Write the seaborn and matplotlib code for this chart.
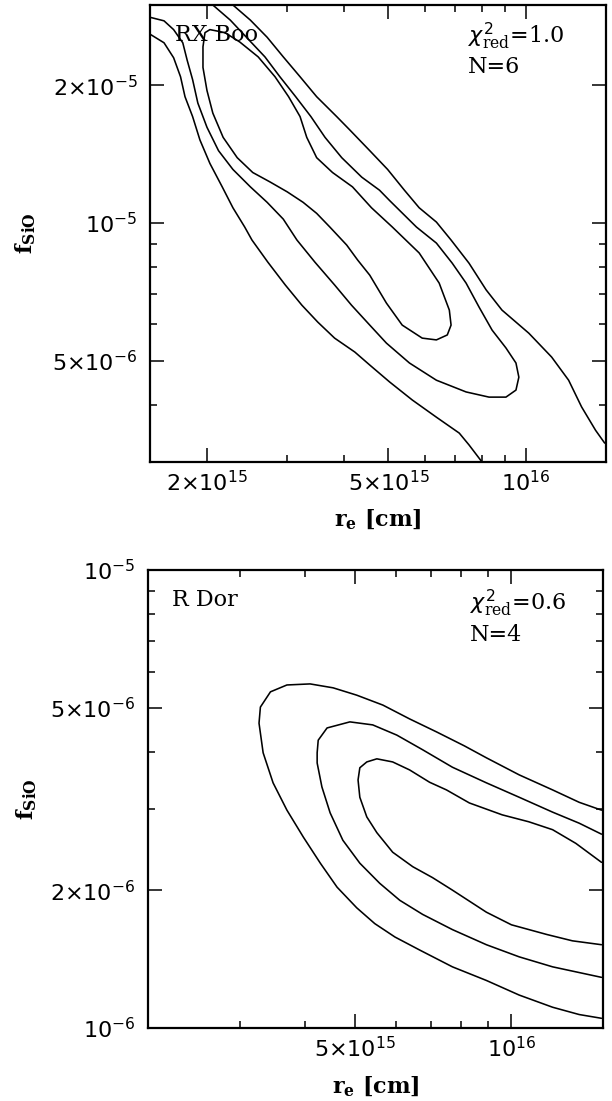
import numpy as np
import matplotlib
matplotlib.use("Agg")
import matplotlib.pyplot as plt
from matplotlib.ticker import FixedLocator, NullFormatter
import seaborn as sns

# values: r_e in units of 1e15 cm, f_SiO in units of 1e-6

# RX Boo (top panel)
rx_outer_left_r = [1.50, 1.61, 1.69, 1.75, 1.79, 1.86, 1.93, 2.03, 2.16, 2.28, 2.42, 2.51, 2.72,
                   2.97, 3.23, 3.50, 3.81, 4.22, 4.55, 5.03, 5.64, 6.37, 7.15, 7.51, 8.02]
rx_outer_left_f = [25.9, 24.8, 23.0, 20.9, 18.9, 17.1, 15.2, 13.5, 12.0, 10.8, 9.80, 9.18, 8.21,
                   7.32, 6.61, 6.07, 5.60, 5.22, 4.89, 4.49, 4.10, 3.76, 3.47, 3.27, 3.00]
rx_outer_right_r = [2.28, 2.49, 2.71, 2.94, 3.20, 3.48, 3.85, 4.11, 4.55, 4.98, 5.42, 5.84, 6.37,
                    6.86, 7.51, 8.19, 8.87, 10.16, 11.40, 12.42, 13.26, 14.23, 14.9]
rx_outer_right_f = [30.0, 27.8, 25.5, 23.1, 20.9, 18.9, 17.1, 16.0, 14.4, 13.1, 11.8, 10.8, 10.05,
                    9.18, 8.17, 7.14, 6.45, 5.74, 5.09, 4.53, 3.96, 3.52, 3.30]
rx_mid_r = [1.50, 1.61, 1.69, 1.77, 1.81, 1.86, 1.91, 2.00, 2.12, 2.28, 2.49, 2.71, 2.94, 3.15,
            3.45, 3.81, 4.15, 4.55, 4.95, 5.56, 6.37, 7.40, 8.31, 9.05, 9.52, 9.66, 9.52, 9.05,
            8.44, 7.90, 7.40, 6.90, 6.37, 5.76, 5.03, 4.78, 4.37, 3.95, 3.63, 3.38, 3.13, 2.89,
            2.68, 2.45, 2.25, 2.06]
rx_mid_f = [28.2, 27.7, 26.5, 24.8, 22.7, 20.6, 18.3, 16.2, 14.4, 13.1, 12.0, 11.1, 10.2, 9.18,
            8.21, 7.32, 6.61, 5.98, 5.46, 4.94, 4.53, 4.27, 4.16, 4.16, 4.31, 4.60, 4.94, 5.33,
            5.83, 6.55, 7.39, 8.17, 9.04, 9.80, 11.2, 11.8, 12.6, 13.9, 15.4, 17.1, 18.9, 20.9,
            23.1, 25.4, 27.8, 30.0]
rx_inner_r = [2.19, 2.11, 2.03, 1.98, 1.96, 1.96, 2.00, 2.06, 2.17, 2.33, 2.52, 2.75, 3.00, 3.25,
              3.48, 3.72, 4.05, 4.28, 4.55, 4.95, 5.36, 5.93, 6.37, 6.73, 6.86, 6.80, 6.46, 5.84,
              5.10, 4.59, 4.17, 3.77, 3.48, 3.31, 3.20, 3.02, 2.82, 2.59, 2.36, 2.19]
rx_inner_f = [26.1, 26.3, 26.5, 26.1, 24.3, 21.9, 19.5, 17.4, 15.4, 13.9, 12.9, 12.3, 11.7, 11.1,
              10.5, 9.80, 8.95, 8.30, 7.69, 6.68, 5.98, 5.60, 5.55, 5.69, 5.98, 6.45, 7.39, 8.60,
              9.80, 10.8, 12.0, 12.9, 13.9, 15.4, 17.1, 18.9, 20.9, 23.1, 24.9, 26.1]

# R Dor (bottom panel)
rd_outer_r = [14.9, 13.5, 12.0, 10.35, 8.95, 8.12, 7.18, 6.37, 5.66, 5.04, 4.54, 4.10, 3.70, 3.44,
              3.29, 3.27, 3.33, 3.48, 3.70, 3.98, 4.29, 4.62, 5.04, 5.46, 5.97, 6.66, 7.70, 8.95,
              10.35, 12.0, 13.5, 14.9]
rd_outer_f = [2.99, 3.11, 3.31, 3.57, 3.89, 4.13, 4.43, 4.73, 5.07, 5.33, 5.53, 5.64, 5.61, 5.42,
              5.02, 4.63, 3.99, 3.43, 2.99, 2.61, 2.29, 2.03, 1.83, 1.69, 1.58, 1.48, 1.36, 1.27,
              1.18, 1.11, 1.07, 1.05]
rd_mid_r = [14.9, 13.5, 12.0, 10.35, 8.95, 7.70, 6.75, 6.02, 5.41, 4.89, 4.42, 4.25, 4.23, 4.23,
            4.32, 4.48, 4.74, 5.11, 5.58, 6.10, 6.75, 7.70, 8.95, 10.35, 12.0, 14.9]
rd_mid_f = [2.65, 2.80, 2.96, 3.19, 3.43, 3.71, 4.05, 4.36, 4.59, 4.66, 4.52, 4.25, 3.99, 3.79,
            3.36, 2.95, 2.57, 2.29, 2.07, 1.90, 1.77, 1.64, 1.52, 1.43, 1.36, 1.29]
rd_inner_r = [14.9, 13.3, 12.0, 10.8, 9.60, 8.30, 7.50, 6.96, 6.37, 5.91, 5.51, 5.27, 5.11, 5.07,
              5.11, 5.27, 5.51, 5.91, 6.46, 7.05, 7.70, 8.95, 10.0, 11.7, 13.1, 14.9]
rd_inner_f = [2.30, 2.53, 2.71, 2.82, 2.92, 3.10, 3.31, 3.44, 3.66, 3.81, 3.87, 3.81, 3.70, 3.48,
              3.19, 2.89, 2.67, 2.42, 2.25, 2.13, 2.00, 1.79, 1.68, 1.60, 1.55, 1.52]

# ticks
rx_xmajor = [2e15, 5e15, 1e16]
rx_xlabels = [r"$2{\times}10^{15}$", r"$5{\times}10^{15}$", r"$10^{16}$"]
rx_ymajor = [5e-6, 1e-5, 2e-5]
rx_ylabels = [r"$5{\times}10^{-6}$", r"$10^{-5}$", r"$2{\times}10^{-5}$"]
rx_xminor = [3e15, 4e15, 6e15, 7e15, 8e15, 9e15]
rx_yminor = [4e-6, 6e-6, 7e-6, 8e-6, 9e-6]

rd_xmajor = [5e15, 1e16]
rd_xlabels = [r"$5{\times}10^{15}$", r"$10^{16}$"]
rd_ymajor = [1e-6, 2e-6, 5e-6, 1e-5]
rd_ylabels = [r"$10^{-6}$", r"$2{\times}10^{-6}$", r"$5{\times}10^{-6}$", r"$10^{-5}$"]
rd_xminor = [3e15, 4e15, 6e15, 7e15, 8e15, 9e15]
rd_yminor = [3e-6, 4e-6, 6e-6, 7e-6, 8e-6, 9e-6]

sns.set_theme(style="ticks")
plt.rcParams["font.family"] = ["DejaVu Sans"]
plt.rcParams["mathtext.fontset"] = "dejavusans"
plt.rcParams["text.color"] = "black"
plt.rcParams["axes.labelcolor"] = "black"

fig = plt.figure(figsize=(6.12, 11.01), dpi=100, facecolor="white")
ax1 = fig.add_axes([150 / 612, 1 - 462 / 1101, 456 / 612, 457 / 1101])
ax2 = fig.add_axes([148 / 612, 1 - 1028 / 1101, 455 / 612, 458 / 1101])


def draw_panel(ax, curves, xlim, ylim, xmaj, xlab, ymaj, ylab, xmin, ymin):
    ax.set_xscale("log")
    ax.set_yscale("log")
    for r, f in curves:
        sns.lineplot(x=np.array(r) * 1e15, y=np.array(f) * 1e-6, sort=False, estimator=None,
                     color="black", lw=1.15, ax=ax)
    ax.set_xlim(*xlim)
    ax.set_ylim(*ylim)
    ax.set_xticks(xmaj, labels=xlab)
    ax.set_yticks(ymaj, labels=ylab)
    ax.xaxis.set_minor_locator(FixedLocator(xmin))
    ax.yaxis.set_minor_locator(FixedLocator(ymin))
    ax.xaxis.set_minor_formatter(NullFormatter())
    ax.yaxis.set_minor_formatter(NullFormatter())
    ax.tick_params(which="both", direction="in", top=True, right=True, color="black",
                   labelsize=16, labelcolor="black")
    ax.tick_params(which="major", length=10, width=1.1)
    ax.tick_params(which="minor", length=5, width=1.1)
    ax.tick_params(axis="y", pad=9)
    ax.tick_params(axis="x", pad=6)
    for s in ax.spines.values():
        s.set_linewidth(1.6)
        s.set_color("black")
    ax.set_facecolor("white")
    ax.grid(False)
    ax.set_xlabel(r"r$_{\mathregular{e}}$ [cm]", fontsize=16, family="DejaVu Serif",
                  fontweight="bold", va="top")
    ax.set_ylabel(r"f$_{\mathregular{SiO}}$", fontsize=16, family="DejaVu Serif",
                  fontweight="bold", va="bottom")


draw_panel(ax1,
           [(rx_outer_left_r, rx_outer_left_f), (rx_outer_right_r, rx_outer_right_f),
            (rx_mid_r, rx_mid_f), (rx_inner_r, rx_inner_f)],
           (1.5e15, 1.5e16), (3e-6, 3e-5),
           rx_xmajor, rx_xlabels, rx_ymajor, rx_ylabels, rx_xminor, rx_yminor)
draw_panel(ax2,
           [(rd_outer_r, rd_outer_f), (rd_mid_r, rd_mid_f), (rd_inner_r, rd_inner_f)],
           (2e15, 1.5e16), (1e-6, 1e-5),
           rd_xmajor, rd_xlabels, rd_ymajor, rd_ylabels, rd_xminor, rd_yminor)

ax1.xaxis.set_label_coords(0.5, -0.10)
ax1.yaxis.set_label_coords(-0.245, 0.5)
ax2.xaxis.set_label_coords(0.5, -0.103)
ax2.yaxis.set_label_coords(-0.24, 0.5)

serif = "DejaVu Serif"
ax1.text(0.055, 0.934, "RX Boo", transform=ax1.transAxes, fontsize=16, family=serif, va="center")
ax1.text(0.697, 0.917, r"$\chi^{2}_{\mathregular{red}}$=1.0", transform=ax1.transAxes,
         fontsize=16, family=serif, va="baseline")
ax1.text(0.697, 0.851, "N=6", transform=ax1.transAxes, fontsize=16, family=serif, va="baseline")

ax2.text(0.053, 0.934, "R Dor", transform=ax2.transAxes, fontsize=16, family=serif, va="center")
ax2.text(0.708, 0.913, r"$\chi^{2}_{\mathregular{red}}$=0.6", transform=ax2.transAxes,
         fontsize=16, family=serif, va="baseline")
ax2.text(0.708, 0.845, "N=4", transform=ax2.transAxes, fontsize=16, family=serif, va="baseline")

fig.savefig("out.png", dpi=100, facecolor="white")
